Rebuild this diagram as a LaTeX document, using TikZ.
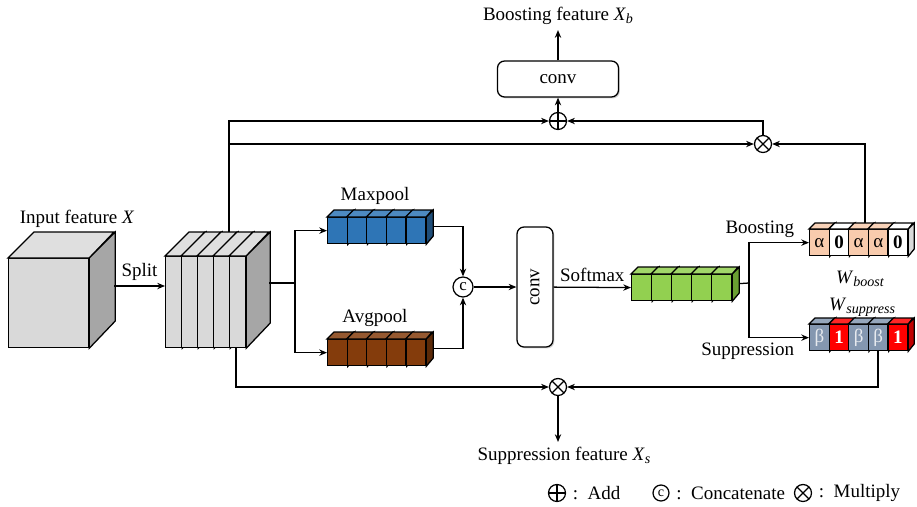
\documentclass[tikz,border=0pt]{standalone}
\usepackage{fontspec}
\setmainfont{Liberation Serif}
\usepackage{graphicx, xcolor}
\usetikzlibrary{arrows.meta, positioning, shadows}

\definecolor{cubefront}{HTML}{D9D9D9}
\definecolor{cubeside}{HTML}{A6A6A6}
\definecolor{maxblue}{HTML}{2E75B6}
\definecolor{maxside}{HTML}{1F4E79}
\definecolor{avgbrown}{HTML}{843C0C}
\definecolor{avgside}{HTML}{5C2A08}
\definecolor{smgreen}{HTML}{92D050}
\definecolor{smside}{HTML}{6A9F32}
\definecolor{peach}{HTML}{F8CBAD}
\definecolor{slate}{HTML}{8497B0}
\definecolor{supred}{HTML}{FF0000}
\definecolor{supside}{HTML}{C00000}

\newcommand{\pxl}{0.025cm}
% italic symbol with italic subscript
\newcommand{\symsub}[2]{\textit{#1}\raisebox{-0.35ex}{\fontsize{10}{10}\selectfont\itshape #2}}

\tikzset{
  cell/.style={draw, line width=0.9pt, inner sep=0pt},
  opcirc/.style={circle, draw, line width=0.9pt, inner sep=0pt, minimum size=17*\pxl},
  opadd/.style={opcirc, path picture={\draw[line width=0.9pt]
      (path picture bounding box.north) -- (path picture bounding box.south)
      (path picture bounding box.west) -- (path picture bounding box.east);}},
  opmul/.style={opcirc, path picture={\draw[line width=0.9pt]
      (path picture bounding box.north west) -- (path picture bounding box.south east)
      (path picture bounding box.north east) -- (path picture bounding box.south west);}},
  opcat/.style={opcirc, minimum size=20*\pxl, font=\fontsize{12}{12}\selectfont},
  convbox/.style={draw, line width=0.9pt, rounded corners=5pt, fill=white,
      drop shadow={shadow xshift=1pt, shadow yshift=-1pt, opacity=0.35}},
}

% row of small cubes: name, x, y, cell width, height, depth, side colour, i/colour/text
\newcommand{\cellrow}[8]{%
  \foreach \i/\col/\txt in {#8} {
    \node[cell, minimum width=#4*\pxl, minimum height=#5*\pxl, fill=\col, anchor=north west]
      (#1\i) at ({#2+#4*\i},#3) {\txt};
    \draw[cell, fill=\col!85!white] (#1\i.north west) -- ++(#6,-#6) -- ++(#4,0) -- (#1\i.north east) -- cycle;
    \draw[cell, fill=#7] (#1\i.north east) -- ++(#6,-#6) -- ++(0,#5) -- (#1\i.south east) -- cycle;
  }%
}

\begin{document}
\begin{tikzpicture}[x=0.025cm, y=-0.025cm, >={Stealth[length=5.5pt, width=4.5pt]},
    line width=0.9pt, font=\fontsize{13.5}{16}\selectfont]
    \useasboundingbox (0,0) rectangle (917,507);

    % input and split feature
    \cellrow{input}{8}{258}{80}{89}{26}{cubeside}{0/cubefront/{}}
    \node (lblInput) at (77,219) {Input feature \textit{X}};
    \cellrow{slab}{165}{256}{16}{91}{24}{cubeside}{0/cubefront/{},1/cubefront/{},2/cubefront/{},3/cubefront/{},4/cubefront/{}}

    % pooling rows
    \cellrow{mp}{327}{217}{19.6}{26}{7}{maxside}{0/maxblue/{},1/maxblue/{},2/maxblue/{},3/maxblue/{},4/maxblue/{}}
    \cellrow{ap}{327}{339}{19.6}{26}{7}{avgside}{0/avgbrown/{},1/avgbrown/{},2/avgbrown/{},3/avgbrown/{},4/avgbrown/{}}
    \node (lblMax) at (375,196) {Maxpool};
    \node (lblAvg) at (375,318) {Avgpool};

    % softmax weights
    \cellrow{sm}{631}{274}{20}{26}{7}{smside}{0/smgreen/{},1/smgreen/{},2/smgreen/{},3/smgreen/{},4/smgreen/{}}
    \cellrow{wb}{809}{229}{19.6}{26}{6}{cubefront}{0/peach/α,1/white/{\textbf{0}},2/peach/α,3/peach/α,4/white/{\textbf{0}}}
    \cellrow{ws}{809}{324}{19.6}{26}{6}{supside}{0/slate/{\textcolor{white!80!slate}{β}},1/supred/{\textcolor{white}{\textbf{1}}},2/slate/{\textcolor{white!80!slate}{β}},3/slate/{\textcolor{white!80!slate}{β}},4/supred/{\textcolor{white}{\textbf{1}}}}
    \node (lblWb) at (860,279) {\symsub{W}{boost}};
    \node (lblWs) at (862,307) {\symsub{W}{suppress}};

    % operators and conv blocks
    \node[opcat] (concat) at (463,287) {c};
    \node[convbox, minimum width=36*\pxl, minimum height=120*\pxl] (convV) at (535,287) {\rotatebox{90}{conv}};
    \node[convbox, minimum width=121*\pxl, minimum height=36*\pxl] (convT) at (558,79) {conv};
    \node[opadd] (addop) at (558,121) {};
    \node[opmul] (multop) at (763,144) {};
    \node[opmul] (multsup) at (558,387) {};
    \node (outBoost) at (558,16) {Boosting feature \symsub{X}{b}};
    \node (outSup) at (564,456) {Suppression feature \symsub{X}{s}};

    % helper points
    \coordinate (inR) at (114,286);
    \coordinate (splitTop) at (229,232);
    \coordinate (splitBot) at (236,347);
    \coordinate (splitR) at (269,283);
    \coordinate (fork1) at (295,283);
    \coordinate (mpOut) at ([shift={(7,-4)}]mp4.east);
    \coordinate (apOut) at ([shift={(7,-4)}]ap4.east);
    \coordinate (smOut) at ([shift={(7,-4)}]sm4.east);
    \coordinate (fork2) at (749,283);
    \coordinate (wbTop) at (865,223);
    \coordinate (wsBot) at (878,350);

    % connectors
    \draw[->] (inR) -- (inR -| slab0.west) node[midway, above] (lblSplit) {Split};
    \draw (splitR) -- (fork1);
    \draw[->] (fork1) |- (mp0);
    \draw[->] (fork1) |- (ap0);
    \draw[->] (mpOut) -| (concat);
    \draw[->] (apOut) -| (concat);
    \draw[->] (concat) -- (convV);
    \draw[->] (convV) -- (sm0) node[midway, above] (lblSoftmax) {Softmax};
    \draw (smOut) -- (fork2);
    \draw[->] (fork2) |- (wb0) node[pos=0.92, above left] (lblBoost) {Boosting};
    \draw[->] (fork2) |- (ws0) node[pos=0.92, below left] (lblSup) {Suppression};
    \draw[->] (splitTop) |- (addop);
    \draw[->] (splitTop) |- (multop);
    \draw[->] (wbTop) |- (multop);
    \draw[->] (multop) |- (addop);
    \draw[->] (addop) -- (convT);
    \draw[->, line width=1.8pt] (convT) -- (outBoost);
    \draw[->] (splitBot) |- (multsup);
    \draw[->] (wsBot) |- (multsup);
    \draw[->] (multsup) -- (multsup |- outSup.north);

    % legend
    \node[opadd] (legAdd) at (557,493) {};
    \node[right=1pt of legAdd] (legAddTxt) {:\ \ Add};
    \node[opcat, minimum size=16*\pxl, font=\fontsize{10}{10}\selectfont] (legCat) at (661,493) {c};
    \node[right=1pt of legCat] (legCatTxt) {:\ \ Concatenate};
    \node[opmul] (legMul) at (803,493) {};
    \node[right=1pt of legMul] (legMulTxt) {:\ \ Multiply};
\end{tikzpicture}
\end{document}
